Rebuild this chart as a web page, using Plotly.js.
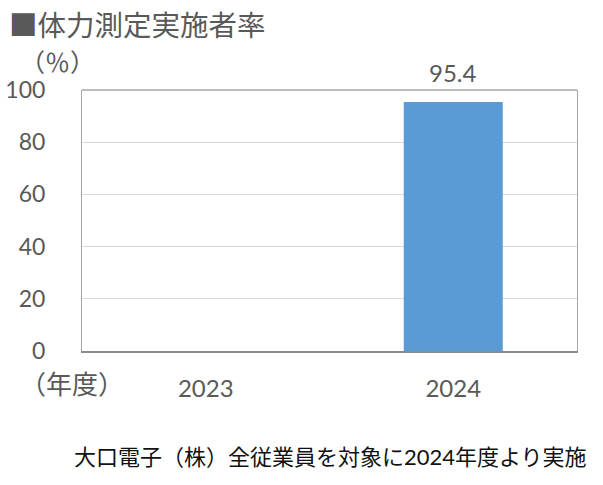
<!DOCTYPE html>
<html><head><meta charset="utf-8">
<script src="https://cdn.plot.ly/plotly-3.0.1.min.js"></script>
<style>html,body{margin:0;padding:0;background:#fff;}</style>
</head><body><div id="chart" style="width:603px;height:485px;"></div>
<script>
const years = ['2023', '2024'];
const rates = [null, 95.4];
const rateLabels = ['', '95.4'];

const F = 'Lato, "Noto Sans CJK JP", sans-serif';
const JP = '"Noto Sans CJK JP", sans-serif';
const gray = '#595959';

const labelAnn = [];
years.forEach((y, i) => {
  if (rates[i] == null) return;
  labelAnn.push({
    text: rateLabels[i], x: i, y: rates[i], xref: 'x', yref: 'y',
    xanchor: 'center', yanchor: 'bottom', yshift: 13, showarrow: false,
    font: {family: F, size: 24, color: gray}
  });
});

Plotly.newPlot('chart', [{
  type: 'bar', x: years, y: rates,
  marker: {color: '#5B9BD5'},
  hoverinfo: 'none'
}], {
  width: 603, height: 485,
  margin: {l: 82, r: 26, t: 90, b: 134},
  paper_bgcolor: '#fff', plot_bgcolor: '#fff',
  bargap: 0.6, showlegend: false,
  xaxis: {type: 'category', categoryarray: years, range: [-0.5, 1.5], showline: true, linecolor: '#8c8c8c', linewidth: 1.5, mirror: false,
    ticks: '', tickfont: {family: F, size: 24, color: gray}, ticklabelstandoff: 16, fixedrange: true},
  yaxis: {range: [0, 100], tickvals: [0, 20, 40, 60, 80, 100], showgrid: true, gridcolor: '#d9d9d9',
    showline: true, linecolor: '#a6a6a6', mirror: true, zeroline: false, ticks: '',
    tickfont: {family: F, size: 23, color: gray}, ticklabelstandoff: 31, fixedrange: true},
  shapes: [{type: 'line', xref: 'paper', yref: 'paper', x0: 0, x1: 1, y0: 1, y1: 1, line: {color: '#a6a6a6', width: 1.5}}],
  annotations: labelAnn.concat([
    {text: '■体力測定実施者率', xref: 'paper', yref: 'paper', x: -0.152, y: 1.253, xanchor: 'left', yanchor: 'middle', showarrow: false, font: {family: JP, size: 28.5, color: gray}},
    {text: '（％）', xref: 'paper', yref: 'paper', x: -0.13, y: 1.11, xanchor: 'left', yanchor: 'middle', showarrow: false, font: {family: JP, size: 25, color: gray}},
    {text: '（年度）', xref: 'paper', yref: 'paper', x: -0.13, y: -0.119, xanchor: 'left', yanchor: 'middle', showarrow: false, font: {family: JP, size: 26, color: gray}},
    {text: '大口電子（株）全従業員を対象に<span style="font-family:Lato">2024</span>年度より実施', xref: 'paper', yref: 'paper', x: 1.025, y: -0.398, xanchor: 'right', yanchor: 'middle', showarrow: false, font: {family: JP, size: 22, color: '#111'}}
  ])
}, {staticPlot: true});
</script></body></html>
